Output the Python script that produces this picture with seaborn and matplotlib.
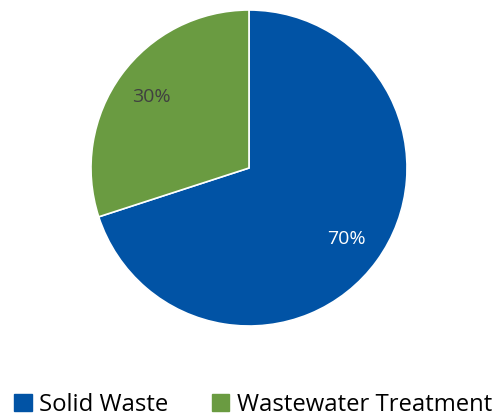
import matplotlib
matplotlib.use("Agg")
import matplotlib.pyplot as plt
import seaborn as sns

categories = ["Solid Waste", "Wastewater Treatment"]
values = [70, 30]
colors = ["#0153A5", "#6A9B41"]

sns.set_style("white")
plt.rcParams['font.family'] = ['Open Sans', 'DejaVu Sans']

fig = plt.figure(figsize=(4.99, 4.19), dpi=100)
ax = fig.add_axes([(249 - 158) / 499, (419 - 326) / 419, 316 / 499, 316 / 419])
wedges, texts, autotexts = ax.pie(
    values, colors=colors, startangle=90, counterclock=False,
    autopct='%d%%', pctdistance=0.76, radius=1.0,
    wedgeprops=dict(edgecolor='white', linewidth=1.2),
    textprops=dict(fontsize=14))
autotexts[0].set_color('white')
autotexts[1].set_color('#404040')
ax.set_xlim(-1, 1)
ax.set_ylim(-1, 1)
ax.set_aspect('equal')

handles = [plt.Rectangle((0, 0), 1, 1, color=c) for c in colors]
leg = fig.legend(handles, categories, loc='center', bbox_to_anchor=(253 / 499, 1 - 405 / 419),
                 ncol=2, frameon=False, fontsize=17.2, handlelength=0.75, handleheight=0.75,
                 handletextpad=0.3, columnspacing=1.8, borderaxespad=0, borderpad=0)
for t in leg.get_texts():
    t.set_color('black')

fig.savefig("out.png", dpi=100)
